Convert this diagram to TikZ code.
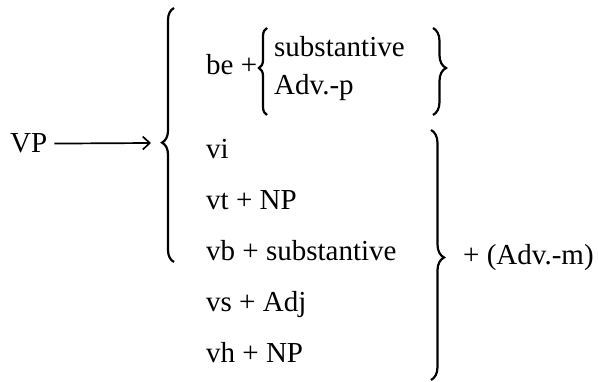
\documentclass[tikz,border=0pt]{standalone}
\usepackage{fontspec}
\setmainfont{Liberation Serif}
\usetikzlibrary{arrows.meta,positioning,decorations.pathreplacing}
\tikzset{
  rowtext/.style={anchor=base west,inner sep=0pt,font=\fontsize{29}{34}\selectfont},
  bracepath/.style n args={2}{decorate,decoration={brace,amplitude=#1,aspect=#2},line width=2.2pt},
}
\newcommand{\rowitem}[3]{\node[rowtext] (#1) at (206,#2) {#3};}

\begin{document}
\begin{tikzpicture}[x=1pt,y=1pt]
		\useasboundingbox (0,0) rectangle (598,382);
		\node[rowtext] (vp) at (10,229) {VP};
		\coordinate (arrowtip) at (151,239);
		\draw[line width=1.7pt,shorten <=7pt,-{Straight Barb[length=7pt,width=13pt]}] (vp) -- (arrowtip);
		\coordinate (lbbot) at (174,120); \coordinate (lbtop) at (174,374);
		\draw[bracepath={12}{0.47}] (lbbot) -- (lbtop);
		\rowitem{be}{307}{be +}
		\coordinate (sbbot) at (267,267); \coordinate (sbtop) at (267,354);
		\draw[bracepath={8}{0.54}] (sbbot) -- (sbtop);
		\node[rowtext] (subst) at (274,325) {substantive};
		\node[rowtext] (advp) at (274,287) {Adv.-p};
		\coordinate (rbtop) at (433,354); \coordinate (rbbot) at (433,267);
		\draw[bracepath={13}{0.46}] (rbtop) -- (rbbot);
		\rowitem{vi}{223}{vi}
		\rowitem{vt}{172}{vt + NP}
		\rowitem{vb}{121}{vb + substantive}
		\rowitem{vs}{70}{vs + Adj}
		\rowitem{vh}{19}{vh + NP}
		\coordinate (bbtop) at (431,252); \coordinate (bbbot) at (431,2);
		\draw[bracepath={13}{0.51}] (bbtop) -- (bbbot);
		\node[rowtext] (advm) at (463,117) {+ (Adv.-m)};
\end{tikzpicture}
\end{document}
